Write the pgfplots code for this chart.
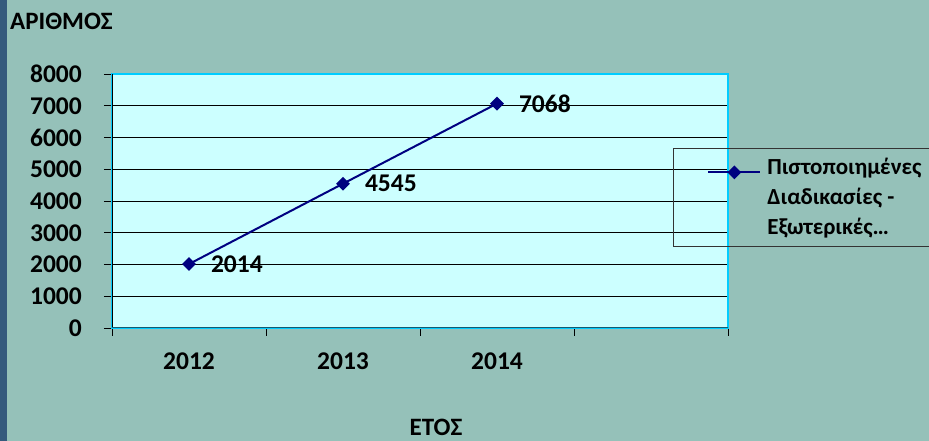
\documentclass[border=0pt]{standalone}
\usepackage{pgfplots}
\pgfplotsset{compat=1.18}
\usepackage{fontspec}
\setmainfont{Carlito}
\definecolor{bg}{RGB}{149,193,185}
\definecolor{strip}{RGB}{52,90,125}
\definecolor{plotfill}{RGB}{204,255,255}
\definecolor{border}{RGB}{0,204,255}
\definecolor{navyline}{RGB}{0,0,128}
\definecolor{botline}{RGB}{20,90,110}
\begin{document}
\begin{tikzpicture}[x=1pt,y=1pt]
\path[use as bounding box, fill=bg] (0,0) rectangle (929,441);
\fill[strip] (0,0) rectangle (7,441);
\node[anchor=base west, inner sep=0pt, font=\bfseries\fontsize{25}{28}\selectfont] at (10,411) {ΑΡΙΘΜΟΣ};
\node[anchor=base, inner sep=0pt, font=\bfseries\fontsize{25}{28}\selectfont] at (436,5) {ΕΤΟΣ};
\begin{axis}[
  at={(112pt,113pt)}, anchor=south west,
  scale only axis, width=616pt, height=254pt,
  xmin=0, xmax=4, ymin=0, ymax=8000,
  xtick={0,1,2,3,4}, xticklabels={2012,2013,2014,{}}, x tick label as interval,
  ytick={0,1000,...,8000},
  /pgf/number format/assume math mode=true,
  /pgf/number format/1000 sep={},
  tick pos=left, tick align=outside, major tick length=8pt,
  tick style={black, line width=0.8pt},
  ymajorgrids, major grid style={black, line width=0.8pt},
  axis background/.style={fill=plotfill},
  axis line style={border, line width=1.5pt},
  tick label style={font=\bfseries\fontsize{25.5}{28}\selectfont, inner sep=0pt},
  yticklabel style={anchor=east, xshift=-22pt},
  xticklabel style={anchor=north, yshift=-17pt},
  legend style={at={(0.9107,0.7087)}, anchor=north west, draw=black!80, line width=0.8pt, fill=none,
    font=\bfseries\fontsize{23}{30}\selectfont, inner xsep=34pt, inner ysep=10pt,
    nodes={align=left, inner sep=0pt},
    /tikz/every odd column/.append style={column sep=6pt}},
  legend cell align=left,
  legend image code/.code={\draw[yshift=25pt, mark repeat=2, mark phase=2, #1] plot coordinates {(0pt,0pt) (26pt,0pt) (52pt,0pt)};},
  nodes near coords={\textbf{\pgfmathprintnumber[assume math mode=true]{\pgfplotspointmeta}}},
  nodes near coords style={anchor=west, xshift=21pt, inner sep=0pt, font=\bfseries\fontsize{25.5}{28}\selectfont, text=black},
]
\addplot[navyline, line width=2pt, mark=square*, mark size=3.9pt, mark options={rotate=45, solid}] coordinates {(0.5,2014) (1.5,4545) (2.5,7068)};
\addlegendentry{Πιστοποιημένες\\Διαδικασίες -\\Εξωτερικές…}
\draw[black, line width=1pt] (rel axis cs:0,0) -- (rel axis cs:0,1);
\draw[botline, line width=2pt] (rel axis cs:0,0) -- (rel axis cs:1,0);
\end{axis}
\end{tikzpicture}
\end{document}
